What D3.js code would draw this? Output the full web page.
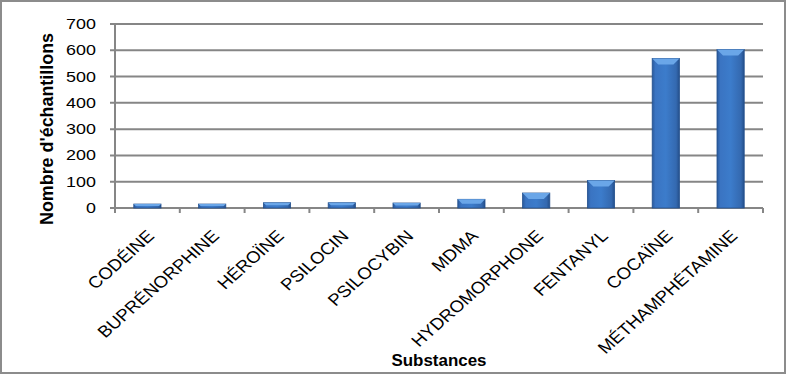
<!DOCTYPE html>
<html>
<head>
<meta charset="utf-8">
<script src="https://cdn.jsdelivr.net/npm/d3@7"></script>
<style>
  body { margin: 0; background: #fff; }
  text { font-family: "Liberation Sans", Arial, sans-serif; }
</style>
</head>
<body>
<div class="container"></div>
<script>
var W = 788, H = 376

var substances = ['CODÉINE', 'BUPRÉNORPHINE', 'HÉROÏNE', 'PSILOCIN', 'PSILOCYBIN',
                  'MDMA', 'HYDROMORPHONE', 'FENTANYL', 'COCAÏNE', 'MÉTHAMPHÉTAMINE']
var counts = [15, 15, 20, 20, 19, 33, 57, 105, 569, 603]
var yTicks = [0, 100, 200, 300, 400, 500, 600, 700]

// plot box (don't use "top" — window.top is read only)
var pLeft = 115, pRight = 763, pTop = 24, pBottom = 208
var stretch = 1.13   // the reference image is stretched sideways, text follows that

var svg = d3.select('.container').append('svg')
    .attr('width', W)
    .attr('height', H)

// frame
svg.append('rect')
    .attr('x', 1).attr('y', 1)
    .attr('width', W - 4).attr('height', H - 4)
    .style('fill', 'white')
    .style('stroke', '#8c8c8c')
    .style('stroke-width', 2)

var defs = svg.append('defs')
var grad = defs.append('linearGradient').attr('id', 'barg')
    .attr('x1', 0).attr('x2', 1).attr('y1', 0).attr('y2', 0)
grad.append('stop').attr('offset', '0%').attr('stop-color', '#2a5a9c')
grad.append('stop').attr('offset', '12%').attr('stop-color', '#3a74c2')
grad.append('stop').attr('offset', '50%').attr('stop-color', '#3c7ccb')
grad.append('stop').attr('offset', '88%').attr('stop-color', '#3469b0')
grad.append('stop').attr('offset', '100%').attr('stop-color', '#244f8a')

var x = d3.scaleBand()
    .domain(substances)
    .range([pLeft, pRight])
    .paddingInner(0.58)
    .paddingOuter(0.29)

var y = d3.scaleLinear()
    .domain([0, 700])
    .range([pBottom, pTop])

// gridlines
svg.append('g')
    .selectAll('line')
    .data(yTicks)
    .enter()
    .append('line')
    .attr('x1', pLeft - 5)
    .attr('x2', pRight)
    .attr('y1', d => y(d))
    .attr('y2', d => y(d))
    .style('stroke', '#868686')
    .style('stroke-width', 2)

// y axis line
svg.append('line')
    .attr('x1', pLeft).attr('x2', pLeft)
    .attr('y1', pTop).attr('y2', pBottom + 5)
    .style('stroke', '#868686')
    .style('stroke-width', 2)

// x tick marks on category edges
var step = (pRight - pLeft) / substances.length
svg.append('g')
    .selectAll('line')
    .data(d3.range(substances.length + 1))
    .enter()
    .append('line')
    .attr('x1', i => pLeft + i * step)
    .attr('x2', i => pLeft + i * step)
    .attr('y1', pBottom)
    .attr('y2', pBottom + 5)
    .style('stroke', '#868686')
    .style('stroke-width', 2)

// y labels
svg.append('g')
    .selectAll('text')
    .data(yTicks)
    .enter()
    .append('text')
    .attr('transform', d => 'translate(96,' + (y(d) + 5) + ') scale(1.28,1)')
    .attr('text-anchor', 'end')
    .style('font-size', '14px')
    .style('fill', '#000')
    .text(d => d)

// bars
var bars = svg.append('g')
    .selectAll('g')
    .data(substances.map((s, i) => ({ name: s, value: counts[i] })))
    .enter()
    .append('g')

bars.append('rect')
    .attr('x', d => x(d.name))
    .attr('y', d => y(d.value))
    .attr('width', x.bandwidth())
    .attr('height', d => pBottom - y(d.value))
    .style('fill', 'url(#barg)')
    .style('stroke', '#23508e')
    .style('stroke-width', 0.8)

// lighter bevel on top of each bar
bars.append('path')
    .attr('d', d => {
        var x0 = x(d.name), x1 = x0 + x.bandwidth(), yt = y(d.value)
        var bev = Math.min(6, (pBottom - yt) / 2)
        return 'M' + x0 + ',' + yt + 'L' + x1 + ',' + yt +
            'L' + (x1 - bev) + ',' + (yt + bev) + 'L' + (x0 + bev) + ',' + (yt + bev) + 'Z'
    })
    .style('fill', '#6aa6e8')

// x labels, rotated then stretched like the reference
svg.append('g')
    .selectAll('text')
    .data(substances)
    .enter()
    .append('text')
    .attr('transform', d => 'translate(' + (x(d) + x.bandwidth() / 2 + 8) + ',237) scale(' + stretch + ',1) rotate(-45)')
    .attr('text-anchor', 'end')
    .style('font-size', '16.5px')
    .style('fill', '#000')
    .text(d => d)

// axis titles
svg.append('text')
    .attr('transform', 'translate(53,129) scale(' + stretch + ',1) rotate(-90)')
    .attr('text-anchor', 'middle')
    .attr('textLength', 192)
    .attr('lengthAdjust', 'spacingAndGlyphs')
    .style('font-size', '16.5px')
    .style('font-weight', 'bold')
    .text("Nombre d'échantillons")

svg.append('text')
    .attr('x', 439)
    .attr('y', 366)
    .attr('text-anchor', 'middle')
    .attr('textLength', 95)
    .attr('lengthAdjust', 'spacingAndGlyphs')
    .style('font-size', '17px')
    .style('font-weight', 'bold')
    .text('Substances')
</script>
</body>
</html>
